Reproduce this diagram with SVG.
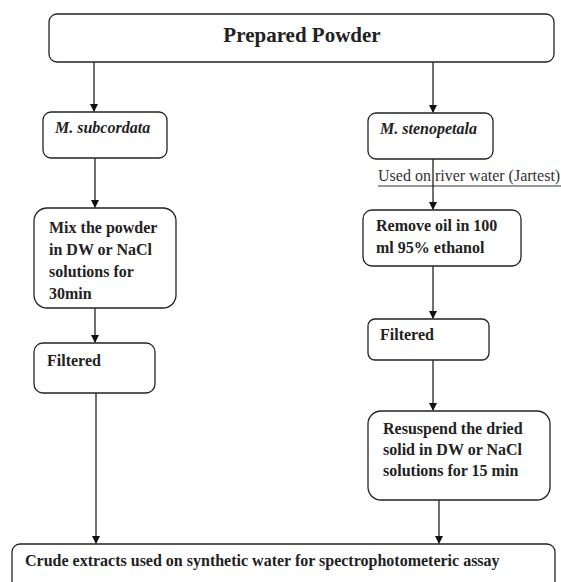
<svg xmlns="http://www.w3.org/2000/svg" width="561" height="582" viewBox="0 0 561 582">
<style>
.box{fill:#fff;stroke:#222;stroke-width:1.3}
.t{font-family:"Liberation Serif","Times New Roman",serif;font-weight:bold;font-size:16px;fill:#222}
.i{font-style:italic}
.n{font-family:"Liberation Serif","Times New Roman",serif;font-size:16px;fill:#333}
.c line{stroke:#222;stroke-width:1.3}
</style>
<defs>
<marker id="ah" markerWidth="8" markerHeight="8" refX="7" refY="4" orient="auto" markerUnits="userSpaceOnUse">
<path d="M0,0 L8,4 L0,8 z" fill="#111"/>
</marker>
</defs>
<rect width="561" height="582" fill="#fff"/>
<g id="prepared">
<rect class="box" x="49" y="14" width="505" height="48" rx="8"/>
<text class="t" x="302" y="42" text-anchor="middle" style="font-size:21px">Prepared Powder</text>
</g>
<g id="subcordata">
<rect class="box" x="43" y="112" width="124" height="46" rx="8"/>
<text class="t i" x="55" y="133">M. subcordata</text>
</g>
<g id="mix">
<rect class="box" x="34" y="208" width="142" height="100" rx="13"/>
<text class="t" x="49" y="233">Mix the powder</text>
<text class="t" x="49" y="255">in DW or NaCl</text>
<text class="t" x="49" y="277">solutions for</text>
<text class="t" x="49" y="299">30min</text>
</g>
<g id="filtered-left">
<rect class="box" x="34" y="343" width="121" height="50" rx="9"/>
<text class="t" x="47" y="366">Filtered</text>
</g>
<g id="stenopetala">
<rect class="box" x="368" y="113" width="125" height="46" rx="8"/>
<text class="t i" x="380" y="134">M. stenopetala</text>
</g>
<g id="river-label">
<text class="n" x="378" y="181">Used on river water (Jartest)</text>
<line x1="378" y1="186" x2="561" y2="186" stroke="#333" stroke-width="1"/>
</g>
<g id="remove-oil">
<rect class="box" x="363" y="210" width="158" height="56" rx="9"/>
<text class="t" x="376" y="231">Remove oil in 100</text>
<text class="t" x="376" y="253">ml 95% ethanol</text>
</g>
<g id="filtered-right">
<rect class="box" x="368" y="319" width="121" height="41" rx="7"/>
<text class="t" x="380" y="340">Filtered</text>
</g>
<g id="resuspend">
<rect class="box" x="368" y="411" width="182" height="89" rx="13"/>
<text class="t" x="383" y="434">Resuspend the dried</text>
<text class="t" x="383" y="455">solid in DW or NaCl</text>
<text class="t" x="383" y="476">solutions for 15 min</text>
</g>
<g id="crude">
<rect class="box" x="12" y="544" width="543" height="50" rx="8"/>
<text class="t" x="25" y="566">Crude extracts used on synthetic water for spectrophotometeric assay</text>
</g>
<g class="c" id="connectors">
<line x1="94" y1="62" x2="94" y2="111" marker-end="url(#ah)"/>
<line x1="433" y1="62" x2="433" y2="112" marker-end="url(#ah)"/>
<line x1="95" y1="158" x2="95" y2="207" marker-end="url(#ah)"/>
<line x1="95" y1="308" x2="95" y2="342" marker-end="url(#ah)"/>
<line x1="433" y1="159" x2="433" y2="209" marker-end="url(#ah)"/>
<line x1="433" y1="266" x2="433" y2="318" marker-end="url(#ah)"/>
<line x1="433" y1="360" x2="433" y2="410" marker-end="url(#ah)"/>
<line x1="96" y1="393" x2="96" y2="543" marker-end="url(#ah)"/>
<line x1="439" y1="500" x2="439" y2="543" marker-end="url(#ah)"/>
</g>
</svg>
